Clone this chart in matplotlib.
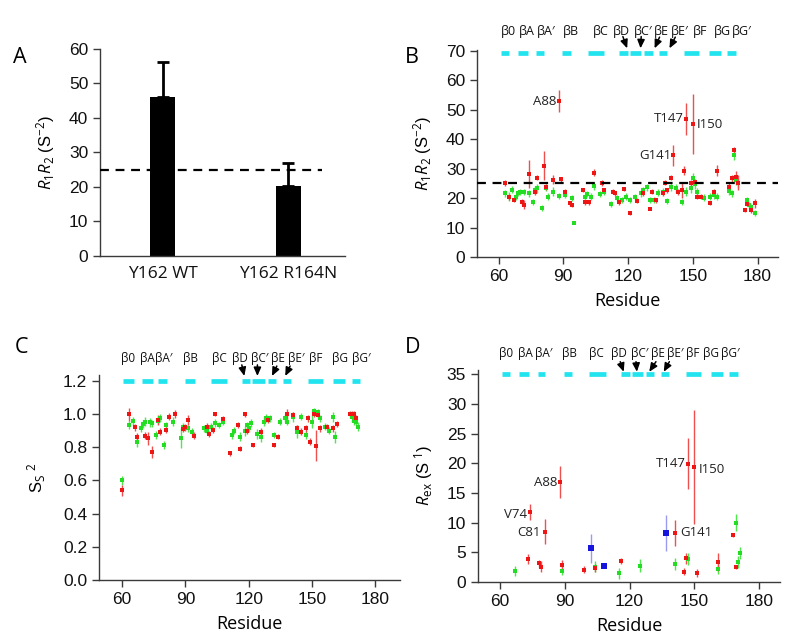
import matplotlib
matplotlib.use("Agg")
import matplotlib.pyplot as plt
import numpy as np

plt.rcParams['font.family'] = ['Liberation Sans', 'DejaVu Sans']
plt.rcParams['mathtext.fontset'] = 'custom'
plt.rcParams['mathtext.rm'] = 'Open Sans'
plt.rcParams['mathtext.it'] = 'Open Sans:italic'
plt.rcParams['axes.linewidth'] = 1.0

# ---------------- Panel A ----------------
a_labels = ['Y162 WT', 'Y162 R164N']
a_vals = [46.0, 20.3]
a_err = [10.0, 6.7]
a_ref = 25

# ---------------- Panel B (R1R2) ----------------
b_red_res = [63, 65, 67, 71, 72, 74, 77, 78, 81, 82, 85, 88, 89, 91, 93, 94, 99, 100, 102, 104,
             108, 109, 113, 114, 116, 118, 121, 124, 127, 130, 131, 133, 136, 137, 138, 140, 141,
             143, 145, 146, 147, 149, 150, 151, 152, 154, 158, 160, 161, 167, 168, 169, 170, 171,
             174, 175, 177, 179]
b_red_val = [25.0, 20.5, 19.4, 18.8, 17.7, 28.1, 22.2, 27.0, 31.0, 23.7, 26.2, 53.0, 26.4, 22.2,
             18.2, 17.7, 22.8, 18.6, 18.6, 28.7, 25.0, 22.8, 22.2, 21.6, 18.6, 23.1, 14.8, 19.1,
             21.6, 16.4, 22.2, 19.3, 21.6, 25.3, 22.6, 27.0, 34.6, 22.2, 22.6, 29.3, 46.9, 25.0,
             45.2, 25.6, 20.5, 20.5, 18.2, 22.2, 29.3, 23.9, 26.7, 36.3, 27.3, 25.3, 15.9, 18.0,
             15.9, 18.2]
b_red_err = [1.0, 1.0, 0.8, 1.0, 1.5, 4.8, 1.0, 0.8, 5.0, 1.0, 1.5, 3.8, 0.8, 1.0, 0.8, 0.8, 0.8,
             0.8, 0.8, 1.2, 1.0, 0.8, 0.8, 0.8, 0.8, 0.8, 0.6, 0.8, 0.8, 0.6, 0.8, 0.8, 0.8, 1.0,
             1.0, 1.0, 3.6, 1.0, 2.5, 1.6, 5.3, 1.2, 10.2, 1.0, 0.8, 0.8, 0.6, 1.0, 1.8, 1.5, 1.2,
             1.2, 2.0, 2.5, 0.6, 0.8, 0.8, 1.5]
b_grn_res = [63, 65, 66, 68, 69, 70, 72, 74, 76, 77, 78, 80, 82, 83, 85, 88, 91, 94, 95, 100, 101,
             103, 104, 107, 109, 112, 115, 117, 119, 121, 123, 126, 127, 129, 130, 132, 134, 136,
             138, 140, 142, 145, 147, 149, 150, 151, 152, 155, 158, 160, 161, 167, 168, 169, 170,
             171, 175, 176, 177, 179]
b_grn_val = [21.6, 20.5, 22.8, 20.5, 21.6, 22.2, 22.0, 21.6, 18.8, 22.8, 23.3, 16.6, 23.5, 20.5,
             22.2, 20.7, 21.0, 19.9, 11.7, 20.5, 21.3, 20.5, 24.1, 21.3, 22.2, 17.9, 19.9, 19.3,
             20.5, 19.3, 20.5, 21.6, 22.6, 23.7, 19.3, 19.3, 21.9, 22.2, 19.1, 23.9, 23.3, 18.8,
             22.2, 23.3, 27.0, 24.7, 22.2, 20.1, 20.5, 21.0, 20.5, 22.3, 21.6, 34.6, 26.1, 25.0,
             19.3, 17.6, 17.1, 14.8]
b_grn_err = [1.2, 1.5, 1.2, 1.0, 1.0, 1.0, 1.0, 1.2, 1.0, 1.2, 1.5, 1.0, 1.2, 1.2, 1.5, 1.0, 1.0,
             1.0, 0.6, 1.0, 1.0, 1.2, 1.5, 1.0, 1.0, 1.0, 1.0, 1.0, 1.2, 1.0, 1.0, 1.2, 1.2, 1.2,
             1.0, 1.0, 1.2, 1.2, 1.0, 1.5, 1.5, 1.0, 1.5, 1.5, 1.5, 1.5, 1.2, 1.2, 1.2, 1.2, 1.2,
             1.2, 1.2, 1.5, 1.5, 1.5, 1.2, 1.0, 1.0, 1.0]
b_ref = 25
b_annot = ['A88', 'T147', 'I150', 'G141']

# ---------------- Panel C (S2) ----------------
c_red_res = [60, 63, 66, 67, 71, 72, 74, 77, 78, 81, 82, 85, 89, 90, 91, 94, 100, 101, 103, 104,
             108, 111, 115, 116, 118, 119, 122, 126, 129, 132, 134, 138, 141, 143, 145, 147, 148,
             149, 151, 152, 153, 154, 157, 160, 162, 168, 169, 170, 171]
c_red_val = [0.54, 1.0, 0.92, 0.864, 0.87, 0.855, 0.77, 0.965, 0.894, 0.905, 0.985, 1.0, 0.91,
             0.92, 0.965, 0.87, 0.924, 0.88, 0.905, 1.0, 0.97, 0.764, 0.935, 0.79, 0.998, 0.9,
             0.814, 0.894, 0.965, 0.814, 0.864, 1.0, 0.995, 0.915, 0.894, 0.915, 0.975, 0.834,
             1.0, 0.81, 0.995, 0.915, 0.925, 0.915, 0.94, 1.0, 1.0, 1.0, 0.975]
c_red_err = [0.035, 0.04, 0.02, 0.02, 0.02, 0.04, 0.035, 0.03, 0.02, 0.02, 0.02, 0.025, 0.02,
             0.02, 0.03, 0.02, 0.02, 0.02, 0.02, 0.01, 0.02, 0.015, 0.02, 0.015, 0.015, 0.02,
             0.015, 0.02, 0.02, 0.015, 0.015, 0.03, 0.02, 0.02, 0.02, 0.02, 0.02, 0.02, 0.02,
             0.095, 0.02, 0.02, 0.015, 0.02, 0.02, 0.02, 0.02, 0.02, 0.02]
c_grn_res = [60, 63, 65, 67, 69, 70, 71, 73, 74, 76, 77, 78, 80, 81, 84, 88, 89, 91, 93, 99, 100,
             102, 104, 106, 108, 112, 113, 116, 118, 119, 120, 121, 124, 126, 127, 128, 130, 132,
             135, 137, 138, 141, 143, 145, 147, 150, 151, 153, 154, 156, 158, 160, 161, 169, 170,
             171, 172]
c_grn_val = [0.60, 0.935, 0.96, 0.834, 0.915, 0.94, 0.955, 0.95, 0.945, 0.875, 0.96, 0.975, 0.814,
             0.935, 0.955, 0.855, 0.925, 0.915, 0.894, 0.915, 0.9, 0.925, 0.945, 0.935, 0.955,
             0.875, 0.9, 0.865, 0.9, 0.935, 0.915, 0.945, 0.88, 0.864, 0.955, 0.975, 0.975, 0.875,
             0.955, 0.975, 0.955, 0.985, 0.894, 0.985, 0.875, 0.955, 1.02, 1.01, 0.975, 0.925,
             0.9, 0.985, 0.864, 0.985, 0.96, 0.955, 0.925]
c_grn_err = [0.025, 0.025, 0.025, 0.03, 0.02, 0.025, 0.025, 0.025, 0.02, 0.025, 0.02, 0.025, 0.025,
             0.02, 0.025, 0.06, 0.02, 0.02, 0.02, 0.02, 0.02, 0.02, 0.025, 0.02, 0.02, 0.025, 0.02,
             0.025, 0.03, 0.02, 0.02, 0.025, 0.03, 0.03, 0.025, 0.025, 0.02, 0.02, 0.02, 0.025,
             0.02, 0.03, 0.04, 0.02, 0.025, 0.04, 0.02, 0.02, 0.02, 0.02, 0.02, 0.03, 0.035, 0.03,
             0.025, 0.025, 0.025]

# ---------------- Panel D (Rex) ----------------
d_red_res = [73, 74, 78, 79, 81, 88, 89, 99, 104, 116, 141, 145, 146, 147, 150, 151, 161, 168, 169]
d_red_val = [3.87, 11.8, 3.15, 2.6, 8.5, 16.8, 2.85, 2.1, 2.3, 3.6, 8.3, 1.7, 3.98, 19.9, 19.4,
             1.46, 3.4, 7.9, 2.47]
d_red_err = [0.9, 1.35, 0.6, 0.9, 2.15, 2.65, 0.9, 0.6, 0.7, 0.5, 2.2, 0.6, 0.9, 4.3, 9.6, 0.7,
             1.5, 0.3, 0.3]
d_grn_res = [67, 89, 104, 115, 125, 141, 147, 161, 169, 170, 171]
d_grn_val = [1.85, 1.9, 2.6, 1.45, 2.7, 3.1, 3.8, 2.2, 10.0, 3.4, 4.9]
d_grn_err = [0.8, 0.8, 0.9, 0.9, 1.1, 1.0, 1.0, 0.9, 1.4, 1.0, 1.0]
d_blu_res = [102, 108, 137]
d_blu_val = [5.67, 2.75, 8.2]
d_blu_err = [2.4, 0.0, 3.0]
d_annot = ['A88', 'V74', 'C81', 'T147', 'I150', 'G141']

# ---------------- Secondary structure ----------------
strand_names = ['β0', 'βA', 'βA\u2032', 'βB', 'βC', 'βD', 'βC\u2032', 'βE', 'βE\u2032', 'βF', 'βG', 'βG\u2032']
strands_bd = [(61, 65), (69, 73.5), (77.5, 81), (89.5, 93.5), (101.5, 109), (116, 120), (121, 126),
              (127.5, 131.5), (134.5, 138), (146, 153), (157.5, 163), (166, 170)]
strands_c = [(60.6, 65.4), (69.3, 74.4), (77.2, 81.2), (89.9, 94.6), (102, 109.9), (116.7, 120.6),
             (121.7, 127.7), (129, 133), (136, 140), (148.3, 155.4), (159.7, 165.7), (168.9, 172.9)]
lab_b = [64.6, 73, 82.2, 93.3, 107.2, 117, 127.1, 135.5, 143.8, 153.5, 163.7, 172.5]
lab_c = [62.7, 71.7, 79.6, 92.2, 106, 115.9, 125.1, 133.8, 142.5, 151.8, 163.3, 173.3]
lab_d = [62.8, 72, 80.5, 92.1, 104.9, 115.2, 124.5, 133, 141.2, 149.2, 157.4, 166.6]
arrows_b = [((117.6, 74.9), (119.6, 70.9)), ((126.1, 74.9), (125.8, 70.9)),
            ((134.6, 74.7), (132.3, 70.9)), ((141.9, 74.7), (139.2, 70.9))]
arrows_c = [((116.7, 1.297), (117.9, 1.23)), ((124.1, 1.297), (124.1, 1.23)),
            ((133.3, 1.29), (131.0, 1.23)), ((139.6, 1.29), (137.3, 1.23))]
arrows_d = [((115.7, 37.1), (117.3, 35.4)), ((123.0, 37.1), (123.4, 35.4)),
            ((132.2, 37.1), (129.1, 35.4)), ((138.4, 37.1), (135.8, 35.4))]

RED = '#ee1515'
RED_E = '#ee5050'
GRN = '#22dd22'
GRN_E = '#4ce84c'
BLU = '#1515dd'
BLU_E = '#9a9aee'
CYAN = '#22e4ee'
SPINE = '#3a3a3a'
SANS2 = ['Open Sans', 'DejaVu Sans']

fig = plt.figure(figsize=(8, 6.41), dpi=100)


def px_axes(l, r, t, b):
    return fig.add_axes([l / 800, 1 - b / 641, (r - l) / 800, (b - t) / 641])


def style(ax):
    for s in ['top', 'right']:
        ax.spines[s].set_visible(False)
    for s in ['left', 'bottom']:
        ax.spines[s].set_color(SPINE)
        ax.spines[s].set_linewidth(1.0)
    ax.tick_params(direction='out', length=5, width=1.0, color=SPINE, labelsize=12.5,
                   labelcolor='#111111')


def eb(ax, x, y, e, c, ec, ms=3.2):
    ax.errorbar(x, y, yerr=e, fmt='s', ms=ms, mfc=c, mec=c, mew=0, ecolor=ec,
                elinewidth=1.0, capsize=2.6, capthick=1.0, zorder=3)


def struct(ax, strands, labpos, yb, yl, arrows, fs):
    for (s0, s1) in strands:
        ax.plot([s0, s1], [yb, yb], color=CYAN, lw=3.4, solid_capstyle='butt', clip_on=False)
    for name, xp in zip(strand_names, labpos):
        ax.text(xp, yl, name, ha='center', va='center', fontsize=fs, family=SANS2,
                color='#111111', clip_on=False)
    for (t, h) in arrows:
        ax.annotate('', xy=h, xytext=t,
                    arrowprops=dict(arrowstyle='-|>,head_length=0.5,head_width=0.22', lw=1.1,
                                    color='k', shrinkA=0, shrinkB=0),
                    annotation_clip=False)


# ---- A ----
axA = px_axes(100, 345, 48.5, 256)
style(axA)
xa = np.arange(len(a_vals))
axA.bar(xa, a_vals, width=0.2, color='black', zorder=2)
axA.errorbar(xa, a_vals, yerr=[np.zeros(len(a_err)), a_err], fmt='none', ecolor='black',
             elinewidth=2, capsize=4, capthick=2, zorder=1)
axA.plot([-0.5, 1.27], [a_ref, a_ref], ls=(0, (4, 3)), color='black', lw=1.6, zorder=3)
axA.set_xlim(-0.5, 1.45)
axA.set_ylim(0, 60)
axA.set_yticks(range(0, 61, 10))
axA.set_xticks(xa)
axA.set_xticklabels(a_labels, fontsize=12.5, family=SANS2)
axA.tick_params(axis='x', length=0, pad=7)
axA.set_ylabel(r'$R_1R_2$ (S$^{-2}$)', fontsize=12)
axA.yaxis.set_label_coords(-0.175, 0.5)

# ---- B ----
axB = px_axes(477, 778, 49.5, 257)
style(axB)
eb(axB, b_grn_res, b_grn_val, b_grn_err, GRN, GRN_E)
eb(axB, b_red_res, b_red_val, b_red_err, RED, RED_E)
axB.axhline(b_ref, ls=(0, (4, 3)), color='black', lw=1.6, zorder=4)
axB.set_xlim(50, 189.5)
axB.set_ylim(0, 70.5)
axB.set_yticks(range(0, 71, 10))
axB.set_xticks([60, 90, 120, 150, 180])
axB.set_xlabel('Residue', fontsize=13, family=SANS2, labelpad=6)
axB.set_ylabel(r'$R_1R_2$ (S$^{-2}$)', fontsize=12)
axB.yaxis.set_label_coords(-0.143, 0.5)
struct(axB, strands_bd, lab_b, 69.4, 76.6, arrows_b, 9.0)
b_annot_pos = [(87, 53.0, 'right'), (146, 47.0, 'right'), (152, 45.0, 'left'), (140, 34.4, 'right')]
for txt, (xx, yy, ha) in zip(b_annot, b_annot_pos):
    axB.text(xx, yy, txt, ha=ha, va='center', fontsize=9.5, family=SANS2, color='#222222')

# ---- C ----
axC = px_axes(99, 400, 375, 580)
style(axC)
eb(axC, c_grn_res, c_grn_val, c_grn_err, GRN, GRN_E, ms=2.8)
eb(axC, c_red_res, c_red_val, c_red_err, RED, RED_E, ms=2.8)
axC.set_xlim(49, 191.7)
axC.set_ylim(0, 1.236)
axC.set_yticks(np.round(np.arange(0, 1.21, 0.2), 1))
axC.yaxis.set_major_formatter(matplotlib.ticker.FormatStrFormatter('%.1f'))
axC.set_xticks([60, 90, 120, 150, 180])
axC.set_xlabel('Residue', fontsize=13, family=SANS2, labelpad=6)
axC.set_ylabel(r'S$_{\mathrm{S}}$ $^{2}$', fontsize=12)
axC.yaxis.set_label_coords(-0.17, 0.5)
struct(axC, strands_c, lab_c, 1.2, 1.337, arrows_c, 8.5)

# ---- D ----
axD = px_axes(478, 780, 370, 582)
style(axD)
eb(axD, d_grn_res, d_grn_val, d_grn_err, GRN, GRN_E)
eb(axD, d_red_res, d_red_val, d_red_err, RED, RED_E)
eb(axD, d_blu_res, d_blu_val, d_blu_err, BLU, BLU_E, ms=5)
axD.set_xlim(50, 189.5)
axD.set_ylim(0, 35.7)
axD.set_yticks(range(0, 36, 5))
axD.set_xticks([60, 90, 120, 150, 180])
axD.set_xlabel('Residue', fontsize=13, family=SANS2, labelpad=6)
axD.set_ylabel(r'$R_{\mathrm{ex}}$ (S$^{\ 1}$)', fontsize=12)
axD.yaxis.set_label_coords(-0.142, 0.5)
struct(axD, strands_bd, lab_d, 35, 38.5, arrows_d, 8.5)
d_annot_pos = [(86.5, 16.7, 'right'), (72.5, 11.4, 'right'), (79, 8.4, 'right'),
               (146, 19.9, 'right'), (152, 19.0, 'left'), (143.5, 8.4, 'left')]
for txt, (xx, yy, ha) in zip(d_annot, d_annot_pos):
    axD.text(xx, yy, txt, ha=ha, va='center', fontsize=9.5, family=SANS2, color='#222222')

# panel letters
for lab, (x, y) in zip(['A', 'B', 'C', 'D'], [(13, 63), (405, 63), (15, 353), (405, 353)]):
    fig.text(x / 800, 1 - y / 641, lab, fontsize=15.5, family=SANS2, ha='left', va='baseline')

fig.savefig('out.png', dpi=100)
